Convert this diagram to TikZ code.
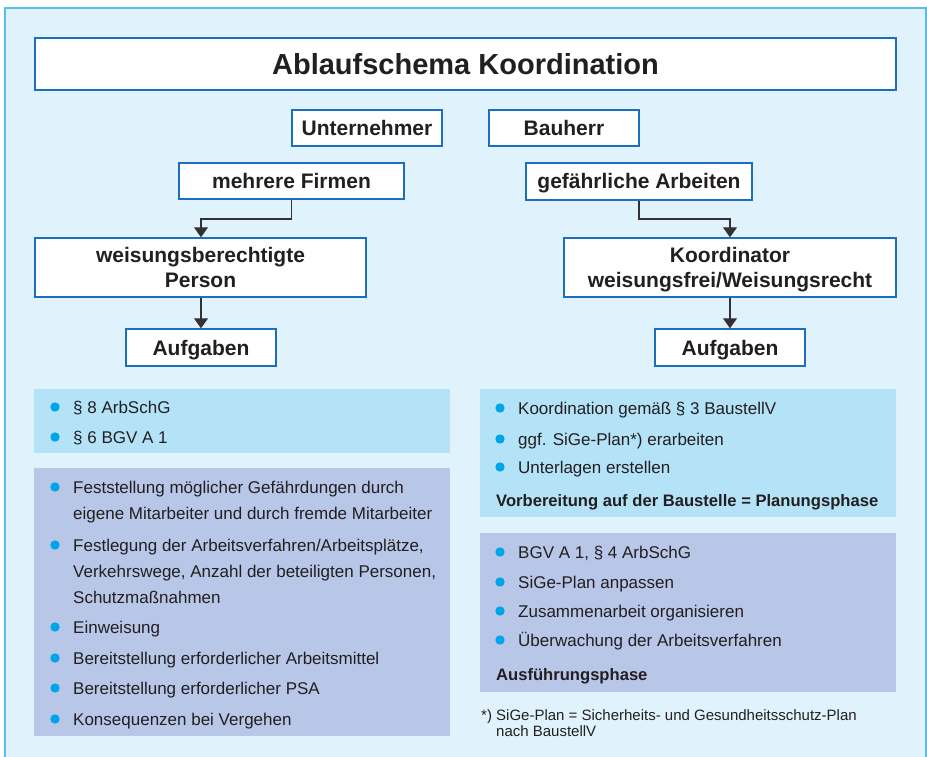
\documentclass[tikz,border=0pt]{standalone}
\usepackage{fontspec}
\setmainfont{Liberation Sans}
\usetikzlibrary{arrows.meta}
\definecolor{frameblue}{RGB}{88,190,234}
\definecolor{bgblue}{RGB}{224,242,252}
\definecolor{boxblue}{RGB}{30,110,190}
\definecolor{lightbox}{RGB}{180,227,248}
\definecolor{purplebox}{RGB}{184,198,232}
\definecolor{bulletblue}{RGB}{0,165,232}
\definecolor{txt}{RGB}{35,31,32}
\definecolor{arrowgray}{RGB}{50,50,50}
\newcommand\bitem[4]{%
  \fill[bulletblue] (#2-18,#3-6) circle[radius=4.7pt];
  \node[listitem] (#1) at (#2,#3) {#4};}
\begin{document}
\begin{tikzpicture}[x=1pt,y=-1pt,
  flowbox/.style={draw=boxblue, line width=1.4pt, fill=white, inner sep=0pt,
    align=center, text=txt, text height=18pt, text depth=3pt,
    font=\fontsize{21}{25}\selectfont\bfseries},
  twoline/.style={flowbox, text height=43pt, text depth=3pt},
  titlebox/.style={flowbox, text height=25pt, text depth=4pt, font=\fontsize{29}{34}\selectfont\bfseries},
  arr/.style={draw=arrowgray, line width=1.1pt, -{Triangle[length=10pt,width=14pt]}},
  listitem/.style={anchor=base west, inner sep=0pt, text=txt, font=\fontsize{17}{20}\selectfont},
  listhead/.style={listitem, font=\fontsize{16.6}{20}\selectfont\bfseries},
  footitem/.style={anchor=base west, inner sep=0pt, text=txt, font=\fontsize{15}{18}\selectfont},
  panelA/.style={fill=lightbox, draw=none},
  panelB/.style={fill=purplebox, draw=none}]
\useasboundingbox (0,0) rectangle (927,757);
\fill[white] (0,0) rectangle (927,757);
\fill[bgblue] (5,8) rectangle (926,757);
\draw[frameblue, line width=1.5pt] (5,770) -- (5,8) -- (926,8) -- (926,770);

% title
\node[titlebox, minimum width=861pt, minimum height=52pt] (title) at (465.5,64) {Ablaufschema Koordination};

% flow boxes
\node[flowbox, minimum width=150pt, minimum height=36pt] (unt) at (367,128) {Unternehmer};
\node[flowbox, minimum width=150pt, minimum height=36pt] (bau) at (564,128) {Bauherr};
\node[flowbox, minimum width=225pt, minimum height=36pt] (mehr) at (291.5,181) {mehrere Firmen};
\node[flowbox, minimum width=226pt, minimum height=37pt] (gef) at (639,181.5) {gefährliche Arbeiten};
\node[twoline, minimum width=331pt, minimum height=59pt] (weis) at (200.5,267.5) {weisungsberechtigte\\Person};
\node[twoline, minimum width=332pt, minimum height=59pt] (koord) at (730,267.5) {Koordinator\\weisungsfrei/Weisungsrecht};
\node[flowbox, minimum width=150pt, minimum height=37pt] (aufL) at (201,347.5) {Aufgaben};
\node[flowbox, minimum width=150pt, minimum height=37pt] (aufR) at (730,347.5) {Aufgaben};

% connectors
\coordinate (kL) at (201,219);
\coordinate (kR) at (730,219);
\draw[arr] (mehr.south) |- (kL) -- (kL |- weis.north);
\draw[arr] (gef.south) |- (kR) -- (kR |- koord.north);
\draw[arr] (aufL.north |- weis.south) -- (aufL.north);
\draw[arr] (koord.south) -- (aufR.north);

% panels
\fill[panelA] (34,389) rectangle (450,453);
\fill[panelB] (34,468) rectangle (450,736);
\fill[panelA] (480,389) rectangle (896,517);
\fill[panelB] (480,533) rectangle (896,692);

% left lists
\bitem{l1}{73}{413}{§ 8 ArbSchG}
\bitem{l2}{73}{443}{§ 6 BGV A 1}
\bitem{l3}{73}{493}{Feststellung möglicher Gefährdungen durch}
\node[listitem] (l3b) at (73,519) {eigene Mitarbeiter und durch fremde Mitarbeiter};
\bitem{l4}{73}{551}{Festlegung der Arbeitsverfahren/Arbeitsplätze,}
\node[listitem] (l4b) at (73,577) {Verkehrswege, Anzahl der beteiligten Personen,};
\node[listitem] (l4c) at (73,603) {Schutzmaßnahmen};
\bitem{l5}{73}{633}{Einweisung}
\bitem{l6}{73}{664}{Bereitstellung erforderlicher Arbeitsmittel}
\bitem{l7}{73}{694}{Bereitstellung erforderlicher PSA}
\bitem{l8}{73}{725}{Konsequenzen bei Vergehen}

% right lists
\bitem{r1}{518}{414}{Koordination gemäß § 3 BaustellV}
\bitem{r2}{518}{445}{ggf. SiGe-Plan*) erarbeiten}
\bitem{r3}{518}{473}{Unterlagen erstellen}
\node[listhead] (rh1) at (496,506) {Vorbereitung auf der Baustelle = Planungsphase};
\bitem{r4}{518}{558}{BGV A 1, § 4 ArbSchG}
\bitem{r5}{518}{588}{SiGe-Plan anpassen}
\bitem{r6}{518}{617}{Zusammenarbeit organisieren}
\bitem{r7}{518}{646}{Überwachung der Arbeitsverfahren}
\node[listhead] (rh2) at (496,680) {Ausführungsphase};

% footnote
\node[footitem] (fmark) at (481,720) {*)};
\node[footitem] (f1) at (496,720) {SiGe-Plan = Sicherheits- und Gesundheitsschutz-Plan};
\node[footitem] (f2) at (496,736) {nach BaustellV};
\end{tikzpicture}
\end{document}
